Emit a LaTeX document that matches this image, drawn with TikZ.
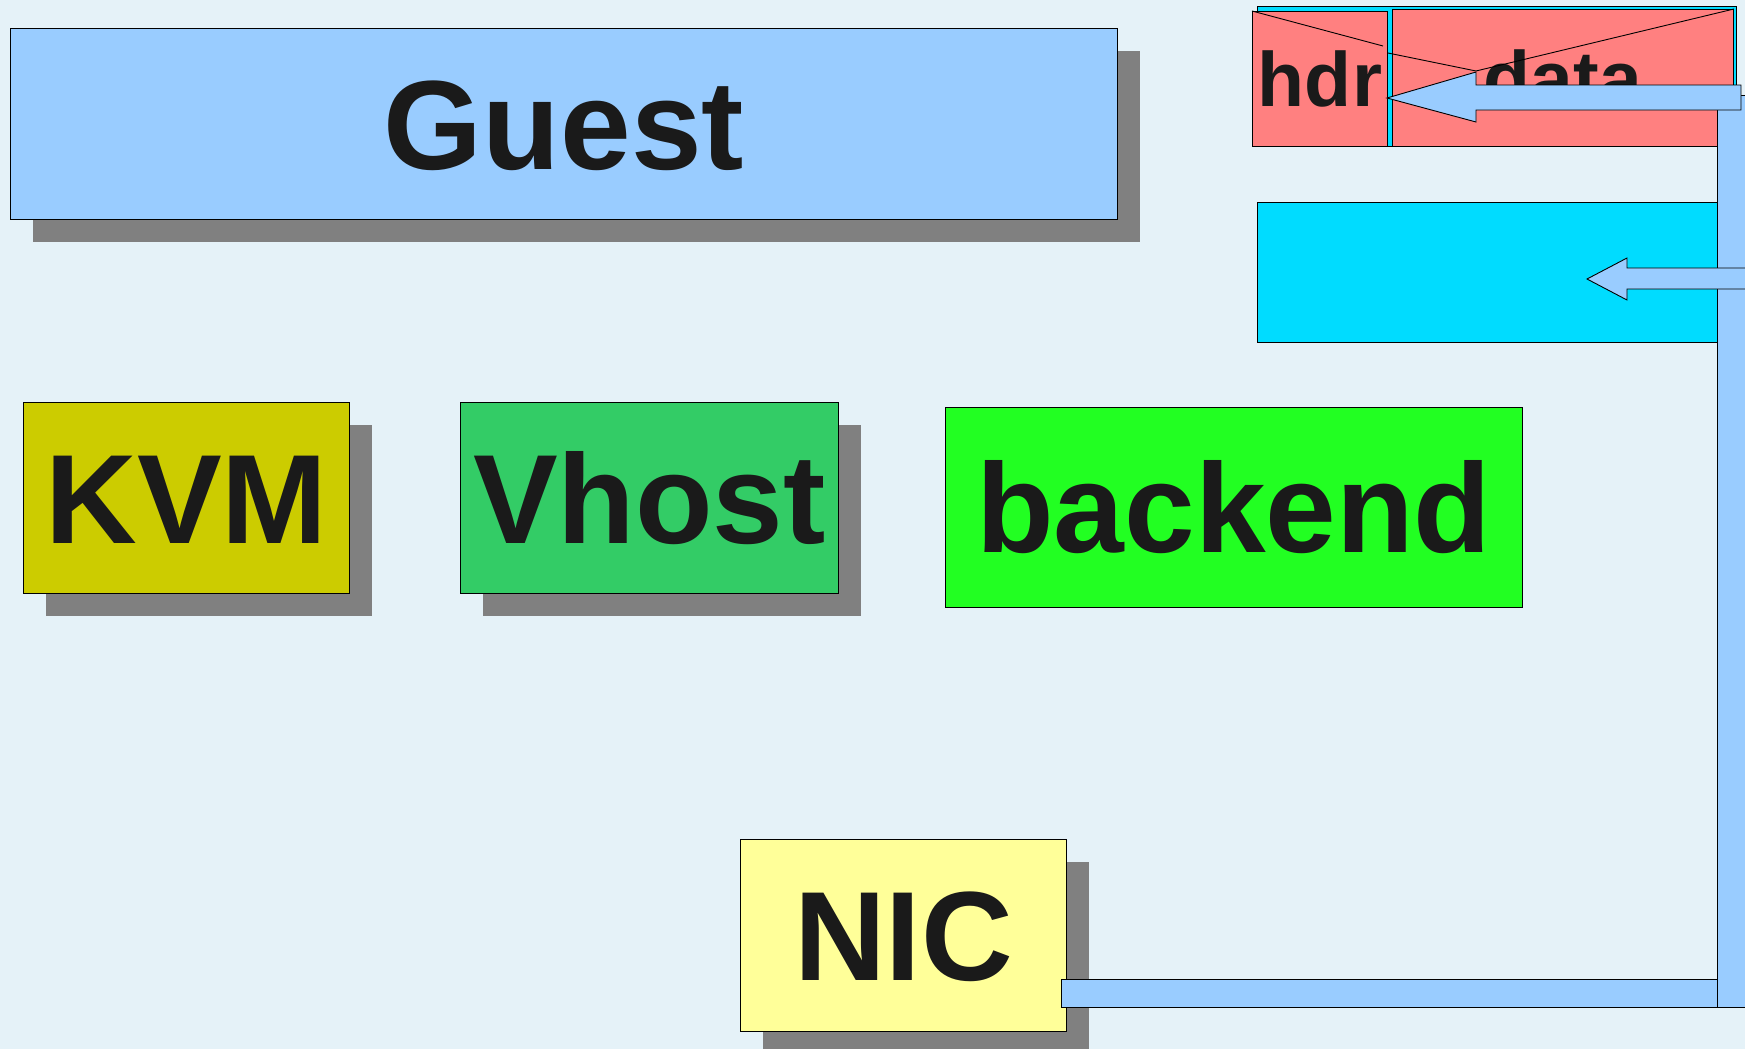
\documentclass[tikz,border=0pt]{standalone}
\usepackage{fontspec}
\setmainfont{Liberation Sans}
\usepackage{tikz}
\usetikzlibrary{shadows,positioning}
\definecolor{bgblue}{HTML}{E5F2F8}
\definecolor{guestblue}{HTML}{99CCFF}
\definecolor{shadowgray}{HTML}{808080}
\definecolor{kvmolive}{HTML}{CCCC00}
\definecolor{vhostgreen}{HTML}{33CC66}
\definecolor{backendgreen}{HTML}{22FF22}
\definecolor{nicyellow}{HTML}{FFFF99}
\definecolor{ringcyan}{HTML}{00DCFF}
\definecolor{pktred}{HTML}{FF8080}
\definecolor{txtgray}{HTML}{1A1A1A}

\begin{document}
\begin{tikzpicture}[x=1pt,y=-1pt]
\tikzstyle{blk}=[draw=black, line width=0.9pt, inner sep=0pt, anchor=north west, text=txtgray, font=\fontsize{127}{127}\selectfont\bfseries, text height=91pt, text depth=0pt]
\tikzstyle{small}=[font=\fontsize{77}{77}\selectfont\bfseries, text height=55pt]
\tikzstyle{shd}=[drop shadow={shadow xshift=23pt, shadow yshift=-23pt, fill=shadowgray, opacity=1}]
\tikzstyle{pipe}=[draw=black, line width=0.9pt, fill=guestblue]

\fill[bgblue] (0,0) rectangle (1745,1049);
\clip (0,0) rectangle (1745,1049);

\node[blk, shd, fill=guestblue, minimum width=1107pt, minimum height=191pt] (guest) at (10,28) {Guest};
\node[blk, shd, fill=kvmolive, minimum width=326pt, minimum height=191pt] (kvm) at (23,402) {KVM};
\node[blk, shd, fill=vhostgreen, minimum width=378pt, minimum height=191pt] (vhost) at (460,402) {Vhost};
\node[blk, fill=backendgreen, minimum width=577pt, minimum height=200pt] (backend) at (945,407) {backend};
\node[blk, shd, fill=nicyellow, minimum width=326pt, minimum height=192pt] (nic) at (740,839) {NIC};

\draw[pipe] (1061,979) rectangle (1717,1007);

\node[blk, fill=ringcyan, minimum width=479pt, minimum height=140pt] (bufring) at (1257,6) {};
\node[blk, small, fill=pktred, minimum width=135pt, minimum height=135pt] (hdr) at (1252,11) {hdr};
\node[blk, small, fill=pktred, minimum width=341pt, minimum height=137pt] (data) at (1392,9) {data};
\draw[line width=0.9pt] (hdr.north west) -- (1383,46);
\draw[line width=0.9pt] (1388,53) -- (1476,71) -- (data.north east);

\node[blk, fill=ringcyan, minimum width=480pt, minimum height=140pt] (vring) at (1257,202) {};

\draw[pipe] (1717,95) rectangle (1760,1007);

\draw[pipe] (1587,279) -- (1627,258) -- (1627,268) -- (1760,268) -- (1760,289) -- (1627,289) -- (1627,300) -- cycle;
\draw[pipe] (1387,98) -- (1476,72) -- (1476,85) -- (1741,85) -- (1741,110) -- (1476,110) -- (1476,122) -- cycle;
\end{tikzpicture}
\end{document}
